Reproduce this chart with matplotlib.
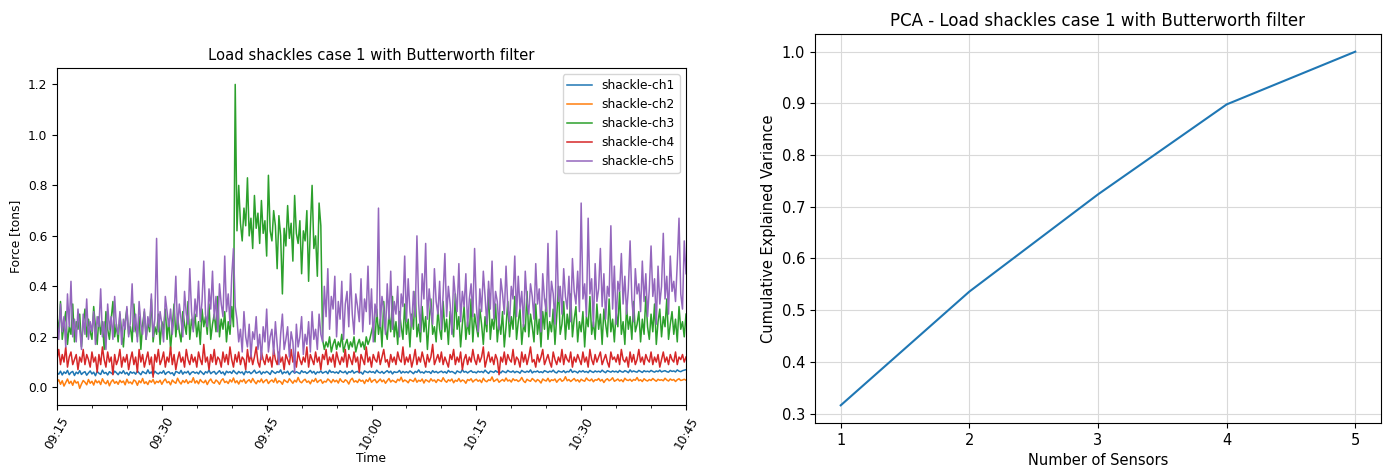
import numpy as np
import pandas as pd
import matplotlib
matplotlib.use("Agg")
from matplotlib import pyplot as plt
import matplotlib.dates as mdates

# filtered shackle readings, one sample every 15 s from 09:15 to 10:45 (361 samples)
ch1 = [0.058, 0.052, 0.064, 0.049, 0.061, 0.055, 0.067, 0.050, 0.059, 0.063, 0.047, 0.060, 0.054, 0.066, 0.051, 0.058, 0.062, 0.048, 0.057, 0.065,
       0.053, 0.060, 0.046, 0.063, 0.056, 0.051, 0.068, 0.055, 0.059, 0.049, 0.062, 0.057, 0.052, 0.064, 0.058, 0.050, 0.061, 0.055, 0.066, 0.053,
       0.059, 0.048, 0.062, 0.056, 0.060, 0.052, 0.065, 0.057, 0.050, 0.063, 0.058, 0.054, 0.069, 0.055, 0.061, 0.049, 0.064, 0.057, 0.053, 0.060,
       0.056, 0.066, 0.051, 0.059, 0.062, 0.054, 0.058, 0.047, 0.063, 0.060, 0.055, 0.067, 0.052, 0.061, 0.057, 0.064, 0.050, 0.059, 0.062, 0.056,
       0.060, 0.053, 0.065, 0.058, 0.051, 0.062, 0.057, 0.068, 0.054, 0.060, 0.063, 0.052, 0.059, 0.066, 0.055, 0.061, 0.049, 0.064, 0.058, 0.062,
       0.055, 0.067, 0.059, 0.053, 0.063, 0.057, 0.061, 0.050, 0.065, 0.058, 0.062, 0.054, 0.060, 0.068, 0.056, 0.059, 0.064, 0.052, 0.061, 0.057,
       0.063, 0.058, 0.051, 0.066, 0.060, 0.055, 0.062, 0.059, 0.069, 0.053, 0.061, 0.057, 0.064, 0.050, 0.060, 0.065, 0.056, 0.062, 0.058, 0.054,
       0.066, 0.059, 0.062, 0.055, 0.060, 0.067, 0.057, 0.063, 0.052, 0.061, 0.058, 0.065, 0.056, 0.060, 0.063, 0.054, 0.068, 0.059, 0.062, 0.057,
       0.061, 0.055, 0.066, 0.060, 0.058, 0.064, 0.053, 0.062, 0.059, 0.067, 0.056, 0.061, 0.063, 0.057, 0.060, 0.052, 0.065, 0.061, 0.058, 0.064,
       0.059, 0.062, 0.056, 0.068, 0.060, 0.057, 0.063, 0.055, 0.061, 0.066, 0.058, 0.064, 0.053, 0.062, 0.059, 0.060, 0.067, 0.056, 0.063, 0.058,
       0.062, 0.057, 0.065, 0.060, 0.054, 0.063, 0.059, 0.069, 0.058, 0.061, 0.056, 0.064, 0.060, 0.062, 0.055, 0.066, 0.059, 0.063, 0.057, 0.061,
       0.064, 0.058, 0.062, 0.056, 0.067, 0.060, 0.063, 0.059, 0.054, 0.065, 0.061, 0.058, 0.070, 0.060, 0.063, 0.057, 0.062, 0.066, 0.059, 0.061,
       0.057, 0.064, 0.060, 0.063, 0.058, 0.068, 0.061, 0.055, 0.064, 0.062, 0.059, 0.066, 0.060, 0.063, 0.057, 0.065, 0.061, 0.058, 0.067, 0.062,
       0.060, 0.065, 0.058, 0.063, 0.061, 0.056, 0.067, 0.062, 0.059, 0.064, 0.060, 0.069, 0.057, 0.063, 0.061, 0.065, 0.059, 0.062, 0.058, 0.066,
       0.063, 0.059, 0.064, 0.061, 0.068, 0.060, 0.057, 0.065, 0.062, 0.060, 0.066, 0.058, 0.063, 0.061, 0.071, 0.059, 0.064, 0.062, 0.057, 0.065,
       0.061, 0.066, 0.060, 0.063, 0.058, 0.067, 0.062, 0.059, 0.065, 0.061, 0.064, 0.060, 0.068, 0.062, 0.058, 0.066, 0.063, 0.060, 0.065, 0.061,
       0.064, 0.059, 0.067, 0.062, 0.060, 0.066, 0.063, 0.058, 0.069, 0.061, 0.065, 0.062, 0.060, 0.067, 0.063, 0.059, 0.066, 0.062, 0.064, 0.061,
       0.067, 0.063, 0.060, 0.065, 0.062, 0.068, 0.061, 0.064, 0.066, 0.062, 0.060, 0.067, 0.063, 0.065, 0.061, 0.069, 0.064, 0.062, 0.066, 0.068,
       0.070]

ch2 = [0.021, 0.030, 0.012, 0.026, 0.005, 0.019, 0.033, 0.015, 0.024, 0.008, 0.028, 0.017, 0.022, -0.004, 0.013, 0.027, 0.020, 0.010, 0.031, 0.016,
       0.024, 0.009, 0.029, 0.018, 0.025, 0.011, 0.034, 0.020, 0.014, 0.027, 0.006, 0.022, 0.030, 0.016, 0.023, 0.012, 0.028, 0.019, 0.025, 0.010,
       0.032, 0.017, 0.021, 0.013, 0.029, 0.024, 0.008, 0.026, 0.018, 0.035, 0.015, 0.022, 0.011, 0.027, 0.020, 0.031, 0.014, 0.024, 0.019, 0.028,
       0.012, 0.025, 0.033, 0.018, 0.023, 0.010, 0.029, 0.021, 0.016, 0.036, 0.022, 0.013, 0.027, 0.019, 0.030, 0.015, 0.024, 0.020, 0.038, 0.017,
       0.026, 0.014, 0.031, 0.022, 0.018, 0.028, 0.011, 0.025, 0.033, 0.020, 0.016, 0.029, 0.023, 0.012, 0.027, 0.034, 0.019, 0.024, 0.015, 0.030,
       0.021, 0.037, 0.018, 0.026, 0.013, 0.028, 0.022, 0.032, 0.016, 0.025, 0.030, 0.019, 0.035, 0.023, 0.014, 0.027, 0.021, 0.033, 0.018, 0.026,
       0.031, 0.015, 0.024, 0.029, 0.020, 0.036, 0.017, 0.026, 0.022, 0.012, 0.030, 0.024, 0.019, 0.034, 0.025, 0.016, 0.028, 0.021, 0.039, 0.023,
       0.018, 0.027, 0.032, 0.020, 0.025, 0.014, 0.029, 0.023, 0.035, 0.019, 0.026, 0.030, 0.016, 0.024, 0.021, 0.033, 0.027, 0.018, 0.031, 0.022,
       0.028, 0.017, 0.034, 0.024, 0.020, 0.030, 0.025, 0.013, 0.029, 0.036, 0.021, 0.026, 0.019, 0.032, 0.024, 0.028, 0.015, 0.030, 0.023, 0.037,
       0.020, 0.027, 0.031, 0.018, 0.025, 0.033, 0.022, 0.029, 0.016, 0.026, 0.035, 0.021, 0.028, 0.024, 0.019, 0.032, 0.026, 0.040, 0.022, 0.029,
       0.025, 0.018, 0.031, 0.027, 0.023, 0.036, 0.020, 0.028, 0.024, 0.033, 0.017, 0.030, 0.026, 0.021, 0.034, 0.025, 0.029, 0.019, 0.031, 0.027,
       0.023, 0.038, 0.026, 0.020, 0.030, 0.025, 0.033, 0.018, 0.028, 0.024, 0.035, 0.022, 0.029, 0.026, 0.016, 0.031, 0.027, 0.034, 0.021, 0.028,
       0.032, 0.024, 0.029, 0.019, 0.036, 0.026, 0.022, 0.030, 0.027, 0.041, 0.023, 0.028, 0.033, 0.020, 0.026, 0.031, 0.024, 0.037, 0.025, 0.029,
       0.021, 0.034, 0.027, 0.030, 0.023, 0.028, 0.039, 0.025, 0.019, 0.032, 0.027, 0.024, 0.035, 0.029, 0.022, 0.031, 0.026, 0.017, 0.033, 0.028,
       0.025, 0.036, 0.022, 0.030, 0.027, 0.033, 0.020, 0.029, 0.034, 0.024, 0.028, 0.042, 0.026, 0.031, 0.023, 0.029, 0.035, 0.025, 0.030, 0.021,
       0.032, 0.027, 0.024, 0.037, 0.029, 0.026, 0.033, 0.022, 0.030, 0.028, 0.035, 0.025, 0.031, 0.019, 0.029, 0.034, 0.026, 0.030, 0.038, 0.024,
       0.028, 0.033, 0.025, 0.030, 0.022, 0.036, 0.029, 0.027, 0.032, 0.024, 0.031, 0.028, 0.039, 0.026, 0.030, 0.023, 0.034, 0.028, 0.025, 0.031,
       0.027, 0.035, 0.029, 0.024, 0.032, 0.028, 0.030, 0.026, 0.036, 0.029, 0.025, 0.033, 0.028, 0.031, 0.023, 0.030, 0.034, 0.027, 0.029, 0.032,
       0.028]

# ch3: quiet start, step up after the 09:40 peak, drop near 09:53, then noisy
ch3_before = [0.28, 0.22, 0.34, 0.19, 0.25, 0.30, 0.17, 0.24, 0.21, 0.33, 0.18, 0.26, 0.23, 0.29, 0.16, 0.25, 0.31, 0.20, 0.27, 0.22,
              0.19, 0.32, 0.24, 0.17, 0.28, 0.21, 0.26, 0.15, 0.30, 0.23, 0.19, 0.27, 0.34, 0.20, 0.25, 0.18, 0.29, 0.22, 0.16, 0.26,
              0.31, 0.21, 0.24, 0.18, 0.33, 0.23, 0.20, 0.28, 0.15, 0.25, 0.30, 0.19, 0.26, 0.22, 0.35, 0.18, 0.24, 0.21, 0.29, 0.17,
              0.26, 0.23, 0.31, 0.19, 0.27, 0.15, 0.24, 0.33, 0.20, 0.28, 0.22, 0.18, 0.30, 0.25, 0.21, 0.34, 0.19, 0.27, 0.23, 0.29,
              0.20, 0.26, 0.17, 0.31, 0.24, 0.28, 0.21, 0.33, 0.19, 0.25, 0.29, 0.22, 0.36, 0.20, 0.27, 0.23, 0.30, 0.18, 0.26, 0.21,
              0.32, 0.24]
ch3_peak = [1.20]
ch3_high = [0.62, 0.80, 0.65, 0.58, 0.71, 0.64, 0.83, 0.60, 0.67, 0.55, 0.76, 0.63, 0.69, 0.57, 0.74, 0.61, 0.66, 0.52, 0.84, 0.62,
            0.58, 0.70, 0.64, 0.47, 0.68, 0.60, 0.37, 0.63, 0.56, 0.72, 0.59, 0.65, 0.50, 0.76, 0.61, 0.57, 0.66, 0.45, 0.62, 0.58,
            0.70, 0.42, 0.63, 0.80, 0.55, 0.60, 0.44, 0.73, 0.64]
ch3_low = [0.19, 0.15, 0.18, 0.16, 0.20, 0.14, 0.17, 0.19, 0.15, 0.18, 0.16, 0.21, 0.14, 0.17, 0.19, 0.15, 0.18, 0.16, 0.20, 0.14,
           0.17, 0.19, 0.16, 0.18, 0.15, 0.20, 0.17, 0.19, 0.22]
ch3_after = [0.25, 0.18, 0.31, 0.21, 0.27, 0.16, 0.34, 0.23, 0.19, 0.29, 0.22, 0.36, 0.20, 0.26, 0.17, 0.30, 0.24, 0.19, 0.33, 0.21,
             0.27, 0.16, 0.29, 0.23, 0.38, 0.20, 0.25, 0.18, 0.32, 0.22, 0.28, 0.15, 0.26, 0.35, 0.21, 0.24, 0.18, 0.31, 0.23, 0.19,
             0.34, 0.22, 0.27, 0.17, 0.30, 0.24, 0.20, 0.37, 0.23, 0.28, 0.16, 0.25, 0.32, 0.19, 0.26, 0.21, 0.35, 0.18, 0.29, 0.24,
             0.20, 0.31, 0.25, 0.17, 0.28, 0.22, 0.39, 0.19, 0.27, 0.23, 0.33, 0.18, 0.26, 0.21, 0.30, 0.16, 0.24, 0.34, 0.20, 0.28,
             0.23, 0.36, 0.19, 0.26, 0.31, 0.17, 0.25, 0.22, 0.38, 0.20, 0.29, 0.24, 0.18, 0.33, 0.21, 0.27, 0.16, 0.30, 0.23, 0.35,
             0.19, 0.26, 0.22, 0.31, 0.17, 0.28, 0.40, 0.21, 0.25, 0.34, 0.19, 0.29, 0.23, 0.37, 0.20, 0.27, 0.32, 0.18, 0.26, 0.22,
             0.30, 0.16, 0.28, 0.24, 0.36, 0.21, 0.26, 0.19, 0.33, 0.23, 0.29, 0.17, 0.31, 0.25, 0.20, 0.35, 0.22, 0.27, 0.18, 0.30,
             0.24, 0.38, 0.21, 0.26, 0.17, 0.32, 0.23, 0.28, 0.19, 0.34, 0.22, 0.25, 0.30, 0.18, 0.27, 0.21, 0.36, 0.24, 0.19, 0.29,
             0.22, 0.33, 0.17, 0.26, 0.31, 0.20, 0.28, 0.24, 0.35, 0.19, 0.25, 0.30, 0.21, 0.27, 0.18, 0.32, 0.23, 0.26, 0.20, 0.29]
ch3 = ch3_before + ch3_peak + ch3_high + ch3_low + ch3_after

ch4 = [0.11, 0.15, 0.09, 0.13, 0.10, 0.16, 0.08, 0.12, 0.14, 0.09, 0.11, 0.13, 0.07, 0.12, 0.10, 0.15, 0.09, 0.13, 0.11, 0.08,
       0.14, 0.10, 0.12, 0.06, 0.13, 0.09, 0.16, 0.11, 0.08, 0.14, 0.10, 0.12, 0.05, 0.13, 0.09, 0.11, 0.15, 0.08, 0.12, 0.10,
       0.13, 0.07, 0.11, 0.14, 0.09, 0.12, 0.06, 0.15, 0.10, 0.13, 0.08, 0.11, 0.14, 0.09, 0.12, 0.04, 0.13, 0.10, 0.15, 0.09,
       0.11, 0.14, 0.08, 0.12, 0.10, 0.16, 0.09, 0.13, 0.07, 0.11, 0.14, 0.10, 0.12, 0.08, 0.15, 0.11, 0.09, 0.13, 0.10, 0.12,
       0.08, 0.14, 0.11, 0.09, 0.17, 0.10, 0.12, 0.07, 0.13, 0.10, 0.15, 0.09, 0.12, 0.11, 0.08, 0.14, 0.10, 0.13, 0.09, 0.16,
       0.11, 0.08, 0.13, 0.10, 0.14, 0.09, 0.12, 0.11, 0.07, 0.15, 0.10, 0.13, 0.09, 0.12, 0.16, 0.10, 0.08, 0.14, 0.11, 0.09,
       0.13, 0.10, 0.12, 0.08, 0.15, 0.11, 0.09, 0.14, 0.10, 0.12, 0.07, 0.13, 0.11, 0.09, 0.15, 0.10, 0.12, 0.08, 0.14, 0.11,
       0.09, 0.12, 0.10, 0.16, 0.08, 0.13, 0.11, 0.09, 0.14, 0.10, 0.12, 0.07, 0.13, 0.11, 0.15, 0.09, 0.12, 0.10, 0.13, 0.08,
       0.14, 0.11, 0.09, 0.12, 0.10, 0.15, 0.08, 0.13, 0.11, 0.09, 0.14, 0.10, 0.12, 0.06, 0.13, 0.11, 0.09, 0.16, 0.10, 0.12,
       0.08, 0.13, 0.11, 0.10, 0.14, 0.09, 0.12, 0.15, 0.10, 0.11, 0.08, 0.13, 0.10, 0.12, 0.09, 0.14, 0.11, 0.10, 0.16, 0.09,
       0.12, 0.10, 0.13, 0.08, 0.11, 0.15, 0.09, 0.12, 0.10, 0.14, 0.11, 0.08, 0.13, 0.10, 0.12, 0.17, 0.09, 0.11, 0.13, 0.10,
       0.14, 0.09, 0.12, 0.10, 0.08, 0.13, 0.11, 0.15, 0.09, 0.12, 0.10, 0.14, 0.07, 0.11, 0.13, 0.09, 0.12, 0.10, 0.15, 0.11,
       0.09, 0.13, 0.10, 0.12, 0.16, 0.08, 0.11, 0.14, 0.10, 0.12, 0.09, 0.13, 0.11, 0.05, 0.12, 0.10, 0.14, 0.09, 0.13, 0.11,
       0.10, 0.15, 0.09, 0.12, 0.11, 0.08, 0.14, 0.10, 0.13, 0.09, 0.12, 0.16, 0.10, 0.11, 0.08, 0.13, 0.10, 0.12, 0.15, 0.09,
       0.11, 0.13, 0.10, 0.08, 0.14, 0.11, 0.09, 0.12, 0.10, 0.15, 0.09, 0.13, 0.11, 0.10, 0.14, 0.08, 0.12, 0.10, 0.13, 0.11,
       0.09, 0.14, 0.10, 0.12, 0.08, 0.15, 0.11, 0.09, 0.13, 0.10, 0.12, 0.14, 0.09, 0.11, 0.13, 0.10, 0.08, 0.14, 0.11, 0.12,
       0.10, 0.13, 0.09, 0.15, 0.11, 0.10, 0.12, 0.08, 0.14, 0.10, 0.13, 0.09, 0.11, 0.15, 0.10, 0.12, 0.09, 0.13, 0.11, 0.10,
       0.14, 0.09, 0.12, 0.10, 0.13, 0.08, 0.11, 0.14, 0.10, 0.12, 0.09, 0.13, 0.11, 0.10, 0.14, 0.09, 0.12, 0.11, 0.13, 0.10,
       0.12]

# ch5: drifts up until 09:40, sags while ch3 carries the load, then recovers
ch5_before = [0.25, 0.19, 0.33, 0.22, 0.28, 0.16, 0.37, 0.24, 0.42, 0.20, 0.27, 0.18, 0.31, 0.23, 0.15, 0.29, 0.21, 0.35, 0.19, 0.26,
              0.22, 0.30, 0.17, 0.28, 0.24, 0.39, 0.20, 0.26, 0.15, 0.33, 0.23, 0.28, 0.19, 0.36, 0.24, 0.21, 0.30, 0.17, 0.27, 0.23,
              0.32, 0.20, 0.26, 0.41, 0.22, 0.29, 0.18, 0.34, 0.25, 0.21, 0.31, 0.19, 0.28, 0.24, 0.37, 0.20, 0.27, 0.59, 0.22, 0.30,
              0.25, 0.18, 0.36, 0.30, 0.24, 0.31, 0.21, 0.28, 0.44, 0.23, 0.33, 0.27, 0.20, 0.38, 0.29, 0.25, 0.47, 0.30, 0.22, 0.35,
              0.28, 0.42, 0.26, 0.34, 0.50, 0.29, 0.24, 0.39, 0.31, 0.46, 0.27, 0.36, 0.22, 0.41, 0.33, 0.28, 0.52, 0.30, 0.37, 0.25,
              0.44, 0.55, 0.32]
ch5_sag = [0.27, 0.18, 0.23, 0.14, 0.30, 0.20, 0.16, 0.25, 0.12, 0.22, 0.19, 0.28, 0.15, 0.21, 0.11, 0.24, 0.18, 0.31, 0.14, 0.20,
           0.23, 0.13, 0.26, 0.17, 0.09, 0.21, 0.29, 0.15, 0.19, 0.24, 0.12, 0.22, 0.18, 0.06, 0.25, 0.16, 0.20, 0.28, 0.13, 0.21,
           0.17, 0.26, 0.14, 0.30, 0.19, 0.23, 0.15, 0.29, 0.21, 0.18]
ch5_after = [0.40, 0.28, 0.47, 0.23, 0.36, 0.31, 0.44, 0.20, 0.34, 0.27, 0.42, 0.19, 0.33, 0.38, 0.24, 0.45, 0.29, 0.21, 0.37, 0.32,
             0.26, 0.43, 0.22, 0.35, 0.30, 0.48, 0.25, 0.39, 0.18, 0.33, 0.28, 0.71, 0.24, 0.36, 0.31, 0.21, 0.41, 0.27, 0.46, 0.23,
             0.34, 0.29, 0.40, 0.20, 0.37, 0.32, 0.52, 0.26, 0.43, 0.30, 0.24, 0.38, 0.28, 0.60, 0.33, 0.22, 0.45, 0.35, 0.57, 0.27,
             0.39, 0.31, 0.25, 0.47, 0.34, 0.29, 0.42, 0.23, 0.37, 0.53, 0.28, 0.40, 0.33, 0.21, 0.44, 0.36, 0.30, 0.49, 0.26, 0.38,
             0.32, 0.45, 0.24, 0.35, 0.41, 0.28, 0.55, 0.33, 0.22, 0.39, 0.30, 0.46, 0.36, 0.25, 0.42, 0.31, 0.50, 0.27, 0.38, 0.34,
             0.23, 0.43, 0.37, 0.29, 0.48, 0.32, 0.26, 0.40, 0.35, 0.52, 0.28, 0.44, 0.31, 0.38, 0.24, 0.46, 0.34, 0.29, 0.41, 0.36,
             0.27, 0.49, 0.33, 0.39, 0.22, 0.45, 0.35, 0.30, 0.57, 0.28, 0.42, 0.37, 0.25, 0.62, 0.34, 0.40, 0.29, 0.47, 0.36, 0.31,
             0.44, 0.26, 0.51, 0.38, 0.33, 0.46, 0.30, 0.73, 0.35, 0.41, 0.28, 0.67, 0.37, 0.43, 0.24, 0.49, 0.34, 0.39, 0.55, 0.32,
             0.45, 0.27, 0.40, 0.36, 0.64, 0.31, 0.48, 0.25, 0.42, 0.38, 0.53, 0.33, 0.44, 0.29, 0.39, 0.58, 0.35, 0.26, 0.47, 0.37,
             0.41, 0.30, 0.50, 0.34, 0.45, 0.28, 0.39, 0.56, 0.36, 0.43, 0.25, 0.48, 0.33, 0.40, 0.61, 0.35, 0.44, 0.29, 0.52, 0.38,
             0.42, 0.34, 0.49, 0.67, 0.37, 0.31, 0.58, 0.45]
ch5 = ch5_before + ch5_sag + ch5_after

channels = ["shackle-ch1", "shackle-ch2", "shackle-ch3", "shackle-ch4", "shackle-ch5"]

# cumulative explained variance from the PCA
n_sensors = [1, 2, 3, 4, 5]
cum_var = [0.316, 0.536, 0.724, 0.898, 1.0]

t = pd.date_range("2021-01-01 09:15", "2021-01-01 10:45", freq="15s")

fig = plt.figure(figsize=(13.89, 4.68), dpi=100)

ax1 = fig.add_axes([57/1389, 1 - 405/468, 629/1389, 337/468])
for name, vals in zip(channels, [ch1, ch2, ch3, ch4, ch5]):
    ax1.plot(t, vals, lw=1.1, label=name)
ax1.set_xlim(t[0], t[-1])
ax1.set_ylim(-0.07, 1.265)
ax1.xaxis.set_major_locator(mdates.MinuteLocator(byminute=[0, 15, 30, 45]))
ax1.xaxis.set_minor_locator(mdates.MinuteLocator(byminute=range(0, 60, 5)))
ax1.xaxis.set_major_formatter(mdates.DateFormatter("%H:%M"))
ax1.tick_params(axis="x", labelrotation=60, labelsize=8.8)
ax1.tick_params(axis="y", labelsize=8.8)
ax1.set_title("Load shackles case 1 with Butterworth filter", fontsize=10.6)
ax1.set_xlabel("Time", fontsize=8.8, labelpad=0)
ax1.set_ylabel("Force [tons]", fontsize=8.8)
ax1.legend(loc="upper right", fontsize=8.8)

ax2 = fig.add_axes([815/1389, 1 - 423/468, 566/1389, 389/468])
ax2.plot(n_sensors, cum_var, lw=1.5)
ax2.set_xticks(n_sensors)
ax2.grid(True, color="#d9d9d9")
ax2.tick_params(labelsize=10.5)
ax2.set_title("PCA - Load shackles case 1 with Butterworth filter", fontsize=12)
ax2.set_xlabel("Number of Sensors", fontsize=10.5)
ax2.set_ylabel("Cumulative Explained Variance", fontsize=10.5)

fig.savefig("out.png", dpi=100)
